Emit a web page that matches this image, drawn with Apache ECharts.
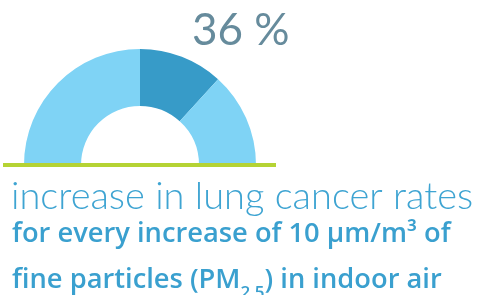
<!DOCTYPE html>
<html><head><meta charset="utf-8">
<script src="https://cdn.jsdelivr.net/npm/echarts@6/dist/echarts.min.js"></script>
<style>html,body{margin:0;padding:0;background:#fff}#c{width:478px;height:295px}</style>
</head><body><div id="c"></div>
<script>
const headline = "36 %";
const segmentNames = ["baseline", "increase", "remainder"];
const segmentValues = [50, 23.5, 26.5];
const segmentColors = ["#7fd3f5", "#379bc8", "#7fd3f5"];
const line1 = "increase in lung cancer rates";
const line2 = "for every increase of 10 µm/m³ of";
const line3 = ["fine particles (PM", "2,5", ") in indoor air"];

const total = segmentValues.reduce((a, b) => a + b, 0);
const pieData = segmentNames.map((n, i) => ({ name: n, value: segmentValues[i], itemStyle: { color: segmentColors[i] } }));
pieData.push({ name: "hidden", value: total, itemStyle: { color: "transparent" } });

const chart = echarts.init(document.getElementById('c'), null, { renderer: 'canvas' });
chart.setOption({
  animation: false,
  series: [{
    type: 'pie',
    center: [140, 165],
    radius: [59, 116],
    startAngle: 180,
    clockwise: true,
    label: { show: false },
    labelLine: { show: false },
    silent: true,
    itemStyle: { borderWidth: 0 },
    data: pieData
  }],
  graphic: [
    { type: 'rect', shape: { x: 3, y: 163, width: 273, height: 4 }, style: { fill: '#b5d334' }, z: 10 },
    { type: 'text', left: 192, top: 9, style: { text: headline, font: '400 44px Lato', fill: '#668b9c' } },
    { type: 'text', left: 11, top: 178, style: { text: line1, font: '300 38px Lato', fill: '#3ea4d2' } },
    { type: 'text', left: 12, top: 221, style: { text: line2, font: '600 27.3px "Open Sans"', fill: '#3aa0cf' } },
    { type: 'text', left: 12, top: 252, style: {
        text: '{a|' + line3[0] + '}{s|' + line3[1] + '}{a|' + line3[2] + '}',
        rich: {
          a: { font: '600 27.3px "Open Sans"', fill: '#3aa0cf', color: '#3aa0cf', lineHeight: 35, verticalAlign: 'top' },
          s: { font: '600 17px "Open Sans"', fill: '#3aa0cf', color: '#3aa0cf', lineHeight: 20, padding: [33, 0, 0, 0], verticalAlign: 'bottom' }
        }
    } }
  ]
});
</script></body></html>
